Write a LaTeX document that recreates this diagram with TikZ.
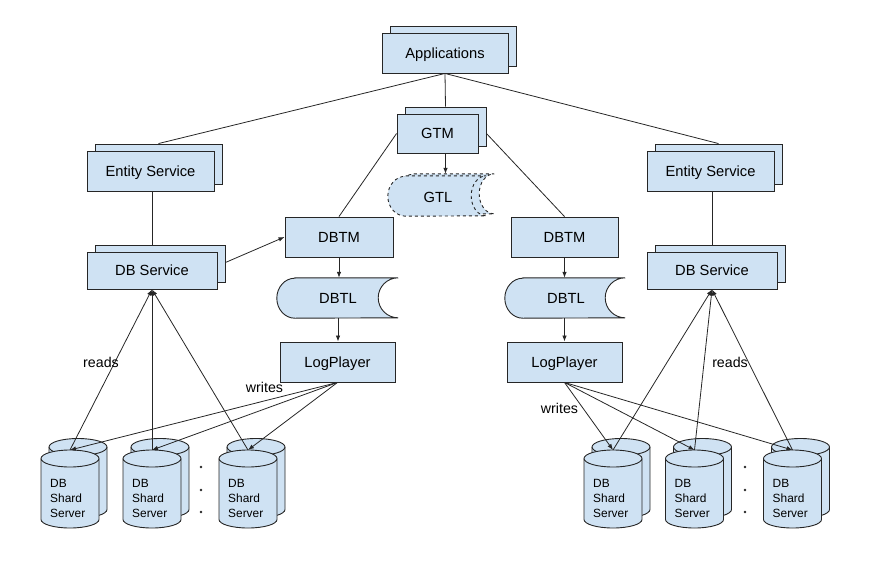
\documentclass[tikz,border=0pt]{standalone}
\usepackage{fontspec}
\setmainfont{Liberation Sans}
\usetikzlibrary{arrows.meta, positioning, shadows, calc}

\definecolor{boxblue}{HTML}{CFE2F3}
\definecolor{linegray}{HTML}{262626}

% outline of a "stored data" shape around an (undrawn) node
\newcommand\datapath[2]{($(#1.north west)+(18,0)$) -- (#1.north east)
    arc[start angle=90, end angle=270, x radius=#2, y radius=20pt]
    -- ($(#1.south west)+(18,0)$)
    arc[start angle=270, end angle=90, x radius=18pt, y radius=20pt] -- cycle}

\begin{document}
\begin{tikzpicture}[x=1pt, y=1pt,
        box/.style={rectangle, draw=linegray, fill=boxblue, line width=0.9pt, inner sep=0pt, text height=10.5pt, text depth=0pt, font=\fontsize{14.7}{17}\selectfont},
        stack/.style={box, copy shadow={shadow xshift=8pt, shadow yshift=7pt}},
        store/.style={rectangle, inner sep=0pt, minimum height=40pt, text height=10.5pt, text depth=0pt, font=\fontsize{14.7}{17}\selectfont},
        link/.style={draw=linegray, line width=0.8pt},
        arr/.style={link, -{Latex[length=6pt, width=4.5pt]}},
        lbl/.style={inner sep=0pt, font=\fontsize{14.2}{16}\selectfont},
        shardtxt/.style={anchor=west, align=left, inner sep=0pt, font=\fontsize{11.9}{15}\selectfont},
        cyl/.style={draw=linegray, fill=boxblue, line width=0.9pt}
        ]
        \useasboundingbox (0,0) rectangle (872,-570);

        % top
        \node[stack, minimum width=126pt, minimum height=40pt] (app) at (445,-53) {Applications};
        \node[stack, minimum width=81pt, minimum height=39pt] (gtm) at (437.5,-133.5) {GTM};

        % GTL (dashed, stacked)
        \node[store, minimum width=98pt] (gtlb) at (445,-194) {};
        \node[store, minimum width=98pt] (gtl) at (437,-196) {};
        \path[cyl, dashed] \datapath{gtlb}{15pt};
        \path[cyl, dashed] \datapath{gtl}{15pt};
        \node[store] (gtltxt) at (438,-197) {GTL};

        % left side
        \node[stack, minimum width=127pt, minimum height=40pt] (es1) at (150.5,-171) {Entity Service};
        \node[stack, minimum width=130pt, minimum height=37pt] (dbs1) at (152,-270.5) {DB Service};
        \node[box, minimum width=108pt, minimum height=40pt] (dbtm1) at (339,-237) {DBTM};
        \node[store, minimum width=121pt] (dbtl1) at (337.5,-298) {};
        \path[cyl] \datapath{dbtl1}{20pt};
        \node[store] (dbtl1txt) at (338,-298) {DBTL};
        \node[box, minimum width=115pt, minimum height=40pt] (lp1) at (337.5,-362) {LogPlayer};

        % right side
        \node[stack, minimum width=127pt, minimum height=40pt] (es2) at (710.5,-171) {Entity Service};
        \node[stack, minimum width=130pt, minimum height=37pt] (dbs2) at (712,-270.5) {DB Service};
        \node[box, minimum width=107pt, minimum height=40pt] (dbtm2) at (564.5,-237) {DBTM};
        \node[store, minimum width=120pt] (dbtl2) at (565,-298) {};
        \path[cyl] \datapath{dbtl2}{20pt};
        \node[store] (dbtl2txt) at (566,-298) {DBTL};
        \node[box, minimum width=115pt, minimum height=40pt] (lp2) at (564.5,-362) {LogPlayer};

        % shard servers
        \foreach \n/\c in {s1/70, s2/152, s3/248, s4/613, s5/694.5, s6/792.5} {
            \draw[cyl] (\c-21,-447) -- (\c-21,-509.5)
                arc[start angle=180, end angle=360, x radius=29pt, y radius=8.5pt] -- (\c+37,-447)
                arc[start angle=0, end angle=180, x radius=29pt, y radius=8.5pt] -- cycle;
            \draw[cyl, fill=none] (\c-21,-447) arc[start angle=180, end angle=360, x radius=29pt, y radius=8.5pt];
            \draw[cyl] (\c-29,-458.5) -- (\c-29,-519.5)
                arc[start angle=180, end angle=360, x radius=29pt, y radius=8.5pt] -- (\c+29,-458.5)
                arc[start angle=0, end angle=180, x radius=29pt, y radius=8.5pt] -- cycle;
            \draw[cyl, fill=none] (\c-29,-458.5) arc[start angle=180, end angle=360, x radius=29pt, y radius=8.5pt];
            \coordinate (\n) at (\c,-450);
            \node[shardtxt] (\n-txt) at (\c-20,-498) {DB\\Shard\\Server};
        }
        \foreach \x in {201, 745}
            \foreach \y in {467, 490, 512}
                \fill[linegray] (\x,-\y) circle[radius=1.3pt];

        % connectors
        \draw[link] (app.south) -- ([shift={(8pt,7pt)}]es1.north);
        \draw[link] (app.south) -- ([shift={(8pt,7pt)}]es2.north);
        \draw[link] (app.south) -- ([shift={(8pt,7pt)}]gtm.north);
        \draw[link] (gtm.west) -- (dbtm1.north);
        \draw[link] ([xshift=8pt]gtm.east) -- (dbtm2.north);
        \draw[arr] ([xshift=8pt]gtm.south) -- ([xshift=8pt]gtm.south |- gtlb.north);

        \draw[link] (dbs1.north |- es1.south) -- ([yshift=7pt]dbs1.north);
        \draw[link] (dbs2.north |- es2.south) -- ([yshift=7pt]dbs2.north);
        \draw[arr] ([shift={(8pt,8pt)}]dbs1.east) -- (dbtm1.west);

        \draw[arr] (dbtm1.south) -- (dbtm1.south |- dbtl1.north);
        \draw[arr] (dbtl1txt.center |- dbtl1.south) -- (dbtl1txt.center |- lp1.north);
        \draw[arr] (dbtm2.south) -- (dbtm2.south |- dbtl2.north);
        \draw[arr] (dbtm2.south |- dbtl2.south) -- (dbtm2.south |- lp2.north);

        \foreach \s in {s1, s2, s3} {
            \draw[arr] (\s) -- (dbs1.south);
            \draw[arr] (lp1.south) -- (\s);
        }
        \foreach \s in {s4, s5, s6} {
            \draw[arr] (\s) -- (dbs2.south);
            \draw[arr] (lp2.south) -- (\s);
        }

        \node[lbl] (rd1) at (101,-362) {reads};
        \node[lbl] (rd2) at (730,-362) {reads};
        \node[lbl] (wr1) at (264.5,-387) {writes};
        \node[lbl] (wr2) at (559.5,-408) {writes};
    \end{tikzpicture}
\end{document}
